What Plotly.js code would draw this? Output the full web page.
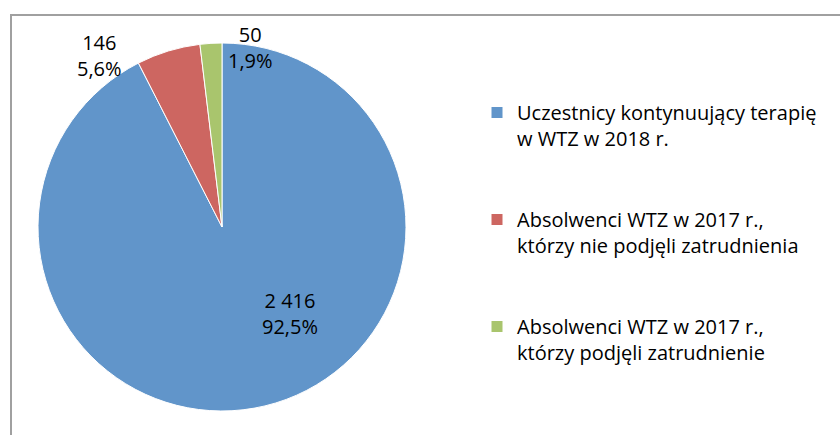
<!DOCTYPE html>
<html>
<head>
<meta charset="utf-8">
<script src="https://cdn.plot.ly/plotly-3.0.1.min.js"></script>
<style>html,body{margin:0;padding:0;background:#fff;}#chart{width:840px;height:435px;}</style>
</head>
<body>
<div id="chart"></div>
<script>
// ---- data ----
const categories = [
  'Uczestnicy kontynuujący terapię<br>w WTZ w 2018 r.',
  'Absolwenci WTZ w 2017 r.,<br>którzy nie podjęli zatrudnienia',
  'Absolwenci WTZ w 2017 r.,<br>którzy podjęli zatrudnienie'
];
const counts = [2416, 146, 50];

// ---- styles / positions ----
const colors = ['#6195CA', '#CD6661', '#A9C56D'];
const labelPos = [[0.3452, 0.2793], [0.1179, 0.8724], [0.2988, 0.8908]];
const FONT = '"Open Sans", "Noto Sans", sans-serif';

function fmtInt(n) {
  return String(n).replace(/\B(?=(\d{3})+(?!\d))/g, ' ');
}
const total = counts.reduce((a, b) => a + b, 0);
const annText = counts.map(v => fmtInt(v) + '<br>' + (v / total * 100).toFixed(1).replace('.', ',') + '%');

const trace = {
  type: 'pie',
  labels: categories.map(c => c + '<br> <br> '),
  values: counts,
  sort: false,
  direction: 'clockwise',
  rotation: 0,
  textinfo: 'none',
  hoverinfo: 'label+value+percent',
  marker: {colors: colors, line: {color: '#ffffff', width: 1}},
  domain: {x: [38/840, 406/840], y: [24/435, 392/435]}
};

const layout = {
  width: 840, height: 435,
  margin: {l: 0, r: 0, t: 0, b: 0},
  paper_bgcolor: '#ffffff',
  font: {family: FONT, size: 20, color: '#000000'},
  separators: ', ',
  showlegend: true,
  legend: {
    x: 477/840, xanchor: 'left',
    y: 1 - 93/435, yanchor: 'top',
    valign: 'top',
    font: {family: FONT, size: 20, color: '#000000'},
    bgcolor: 'rgba(0,0,0,0)'
  },
  annotations: annText.map((t, i) => ({
    text: t, xref: 'paper', yref: 'paper',
    x: labelPos[i][0], y: labelPos[i][1],
    xanchor: 'center', yanchor: 'middle',
    showarrow: false, align: 'center',
    font: {family: FONT, size: 20, color: '#000000'}
  })),
  shapes: [{
    type: 'rect', xref: 'paper', yref: 'paper',
    x0: 11/840, x1: 1.05, y0: -0.05, y1: 1 - 15/435,
    line: {color: '#A0A0A0', width: 2}, fillcolor: 'rgba(0,0,0,0)', layer: 'below'
  }]
};

Plotly.newPlot('chart', [trace], layout, {displayModeBar: false, staticPlot: true});
</script>
</body>
</html>
